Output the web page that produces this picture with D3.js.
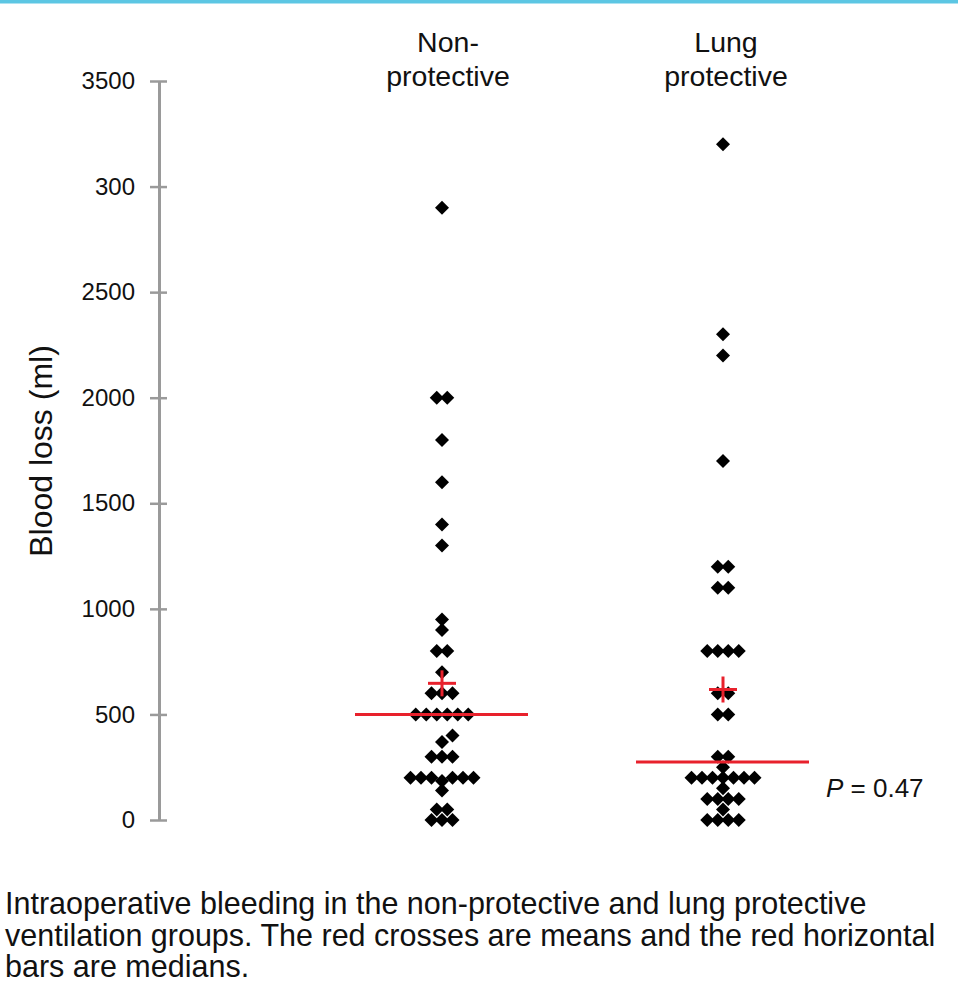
<!DOCTYPE html>
<html><head><meta charset="utf-8">
<script src="https://cdn.jsdelivr.net/npm/d3@7"></script>
<style>
body{margin:0;background:#fff}
svg{display:block}
text{font-family:"Liberation Sans",Arial,Helvetica,sans-serif}
</style>
</head><body>
<svg id="chart" width="958" height="991"></svg>
<script>
// ---------- data ----------
const groups = ["Non-protective", "Lung protective"];
const groupLabelLines = [["Non-", "protective"], ["Lung", "protective"]];
const nonProtective = [2900, 2000, 2000, 1800, 1600, 1400, 1300, 950, 900, 800, 800, 700,
  600, 600, 600, 500, 500, 500, 500, 500, 500, 400, 370, 300, 300, 300,
  200, 200, 200, 200, 200, 200, 185, 140, 50, 50, 0, 0, 0];
const lungProtective = [3200, 2300, 2200, 1700, 1200, 1200, 1100, 1100, 800, 800, 800, 800,
  600, 600, 500, 500, 300, 300, 250, 200, 200, 200, 200, 200, 200, 200, 150,
  100, 100, 100, 100, 50, 0, 0, 0, 0];
const seriesValues = [nonProtective, lungProtective];
const tickValues = [0, 500, 1000, 1500, 2000, 2500, 3000, 3500];
const tickLabels = ["0", "500", "1000", "1500", "2000", "2500", "300", "3500"];
const yAxisTitle = "Blood loss (ml)";
const pLabel = ["P", " = 0.47"];
const captionLines = [
  "Intraoperative bleeding in the non-protective and lung protective",
  "ventilation groups. The red crosses are means and the red horizontal",
  "bars are medians."
];

// ---------- chart ----------
const W = 958, H = 991;
const svg = d3.select("#chart");
svg.append("rect").attr("width", W).attr("height", H).attr("fill", "#fff");
svg.append("rect").attr("x", 0).attr("y", 0).attr("width", W).attr("height", 3.5).attr("fill", "#5cc6e3");

const y = d3.scaleLinear().domain([0, 3500]).range([820, 81]);
const x = d3.scalePoint().domain(groups).range([442, 723]);

// axis
const axis = d3.axisLeft(y).tickValues(tickValues)
  .tickFormat((d, i) => tickLabels[i])
  .tickSizeInner(9).tickSizeOuter(0).tickPadding(15);
const gA = svg.append("g").attr("transform", "translate(159,0)").call(axis)
  .attr("font-family", null).attr("font-size", null);
gA.select(".domain").attr("stroke", "#9a9a9a").attr("stroke-width", 3);
gA.selectAll(".tick line").attr("x1", -9).attr("x2", 8).attr("stroke", "#9a9a9a").attr("stroke-width", 2.5);
gA.selectAll(".tick text").attr("font-size", 24).attr("fill", "#111")
  .style("font-family", '"Liberation Sans",Arial,sans-serif');

svg.append("text")
  .attr("transform", "translate(52,451) rotate(-90)")
  .attr("text-anchor", "middle").attr("font-size", 32).attr("fill", "#111")
  .text(yAxisTitle);

// category labels
groups.forEach((g, i) => {
  const t = svg.append("text").attr("text-anchor", "middle").attr("font-size", 28.5).attr("fill", "#111");
  groupLabelLines[i].forEach((line, j) => {
    t.append("tspan").attr("x", x(g) + (i === 0 ? 6 : 3)).attr("y", 52 + j * 34).text(line);
  });
});

// dot layout (rows of equal values, shifted when they collide)
function swarm(values, cx) {
  const step = 10.5, minDx = 10, minDy = 9;
  const rows = d3.groups(values, v => v).sort((a, b) => a[0] - b[0]);
  const placed = [];
  const free = (px, py) => placed.every(p => Math.abs(p.x - px) >= minDx || Math.abs(p.y - py) >= minDy);
  for (const [v, arr] of rows) {
    const n = arr.length, py = y(v);
    let offs = d3.range(n).map(i => (i - (n - 1) / 2) * step);
    if (!offs.every(o => free(cx + o, py))) {
      offs = [];
      for (let k = 0; offs.length < n && k < 40; k++) {
        const cands = k === 0 ? [0] : [k * step, -k * step];
        for (const o of cands) if (offs.length < n && free(cx + o, py)) offs.push(o);
      }
    }
    offs.forEach(o => placed.push({ v, x: cx + o, y: py }));
  }
  return placed;
}

const diamond = d3.symbol().type(d3.symbolSquare).size(98)();
const red = "#e8212c";

groups.forEach((g, i) => {
  const cx = x(g);
  const pts = swarm(seriesValues[i], cx);
  svg.append("g").selectAll("path").data(pts).join("path")
    .attr("d", diamond)
    .attr("transform", d => `translate(${d.x},${d.y}) rotate(45)`)
    .attr("fill", "#000");

  const med = d3.median(seriesValues[i]);
  const mean = d3.mean(seriesValues[i]);
  svg.append("line").attr("x1", cx - 87).attr("x2", cx + 86)
    .attr("y1", y(med)).attr("y2", y(med))
    .attr("stroke", red).attr("stroke-width", 3);
  svg.append("line").attr("x1", cx - 14).attr("x2", cx + 14)
    .attr("y1", y(mean)).attr("y2", y(mean))
    .attr("stroke", red).attr("stroke-width", 3);
  svg.append("line").attr("x1", cx).attr("x2", cx)
    .attr("y1", y(mean) - 13).attr("y2", y(mean) + 13)
    .attr("stroke", red).attr("stroke-width", 3);
});

// P value
const pt = svg.append("text").attr("x", 826).attr("y", 797).attr("font-size", 26).attr("fill", "#111");
pt.append("tspan").attr("font-style", "italic").text(pLabel[0]);
pt.append("tspan").text(pLabel[1]);

// caption
captionLines.forEach((line, i) => {
  svg.append("text").attr("x", 5).attr("y", 914 + i * 31.5)
    .attr("font-size", 30.5).attr("fill", "#111").text(line);
});
</script>
</body></html>
